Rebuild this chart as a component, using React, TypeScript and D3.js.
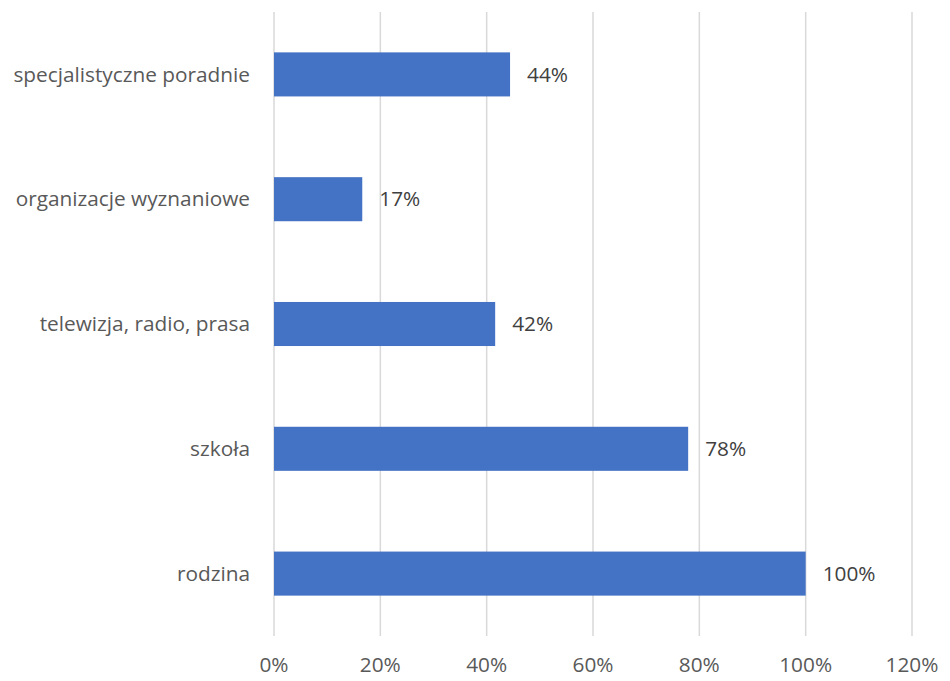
import React from "react";
import * as d3 from "d3";

const categories = [
  "specjalistyczne poradnie",
  "organizacje wyznaniowe",
  "telewizja, radio, prasa",
  "szkoła",
  "rodzina",
];
const values = [0.444, 0.166, 0.416, 0.779, 1.0];
const xTicks = [0, 0.2, 0.4, 0.6, 0.8, 1.0, 1.2];

export default function App() {
  const width = 950;
  const height = 681;
  const left = 274;
  const right = 912;
  const top = 12;
  const bottom = 636;
  const x = d3.scaleLinear().domain([0, 1.2]).range([left, right]);
  const y = d3
    .scaleBand<string>()
    .domain(categories)
    .range([top, bottom])
    .paddingInner(0.647)
    .paddingOuter(0.3235);
  const fmt = d3.format(".0%");
  const font = "'Open Sans', sans-serif";
  const fs = 20.8;
  return (
    <svg
      width={width}
      height={height}
      style={{ position: "absolute", left: 0, top: 0, background: "#fff" }}
      fontFamily={font}
    >
      {xTicks.map((t) => (
        <g key={t}>
          <line x1={x(t)} x2={x(t)} y1={top} y2={bottom} stroke="#d9d9d9" strokeWidth={1.5} />
          <text x={x(t)} y={665} dy="0.35em" textAnchor="middle" fontSize={fs} fill="#595959">
            {fmt(t)}
          </text>
        </g>
      ))}
      {categories.map((c, i) => {
        const yy = y(c)!;
        const bw = y.bandwidth();
        return (
          <g key={c}>
            <rect x={x(0)} y={yy} width={x(values[i]) - x(0)} height={bw} fill="#4472C4" />
            <text
              x={250}
              y={yy + bw / 2}
              dy="0.35em"
              textAnchor="end"
              fontSize={fs}
              fill="#595959"
            >
              {c}
            </text>
            <text
              x={x(values[i]) + 17}
              y={yy + bw / 2}
              dy="0.35em"
              fontSize={fs}
              fill="#404040"
            >
              {fmt(values[i])}
            </text>
          </g>
        );
      })}
    </svg>
  );
}
